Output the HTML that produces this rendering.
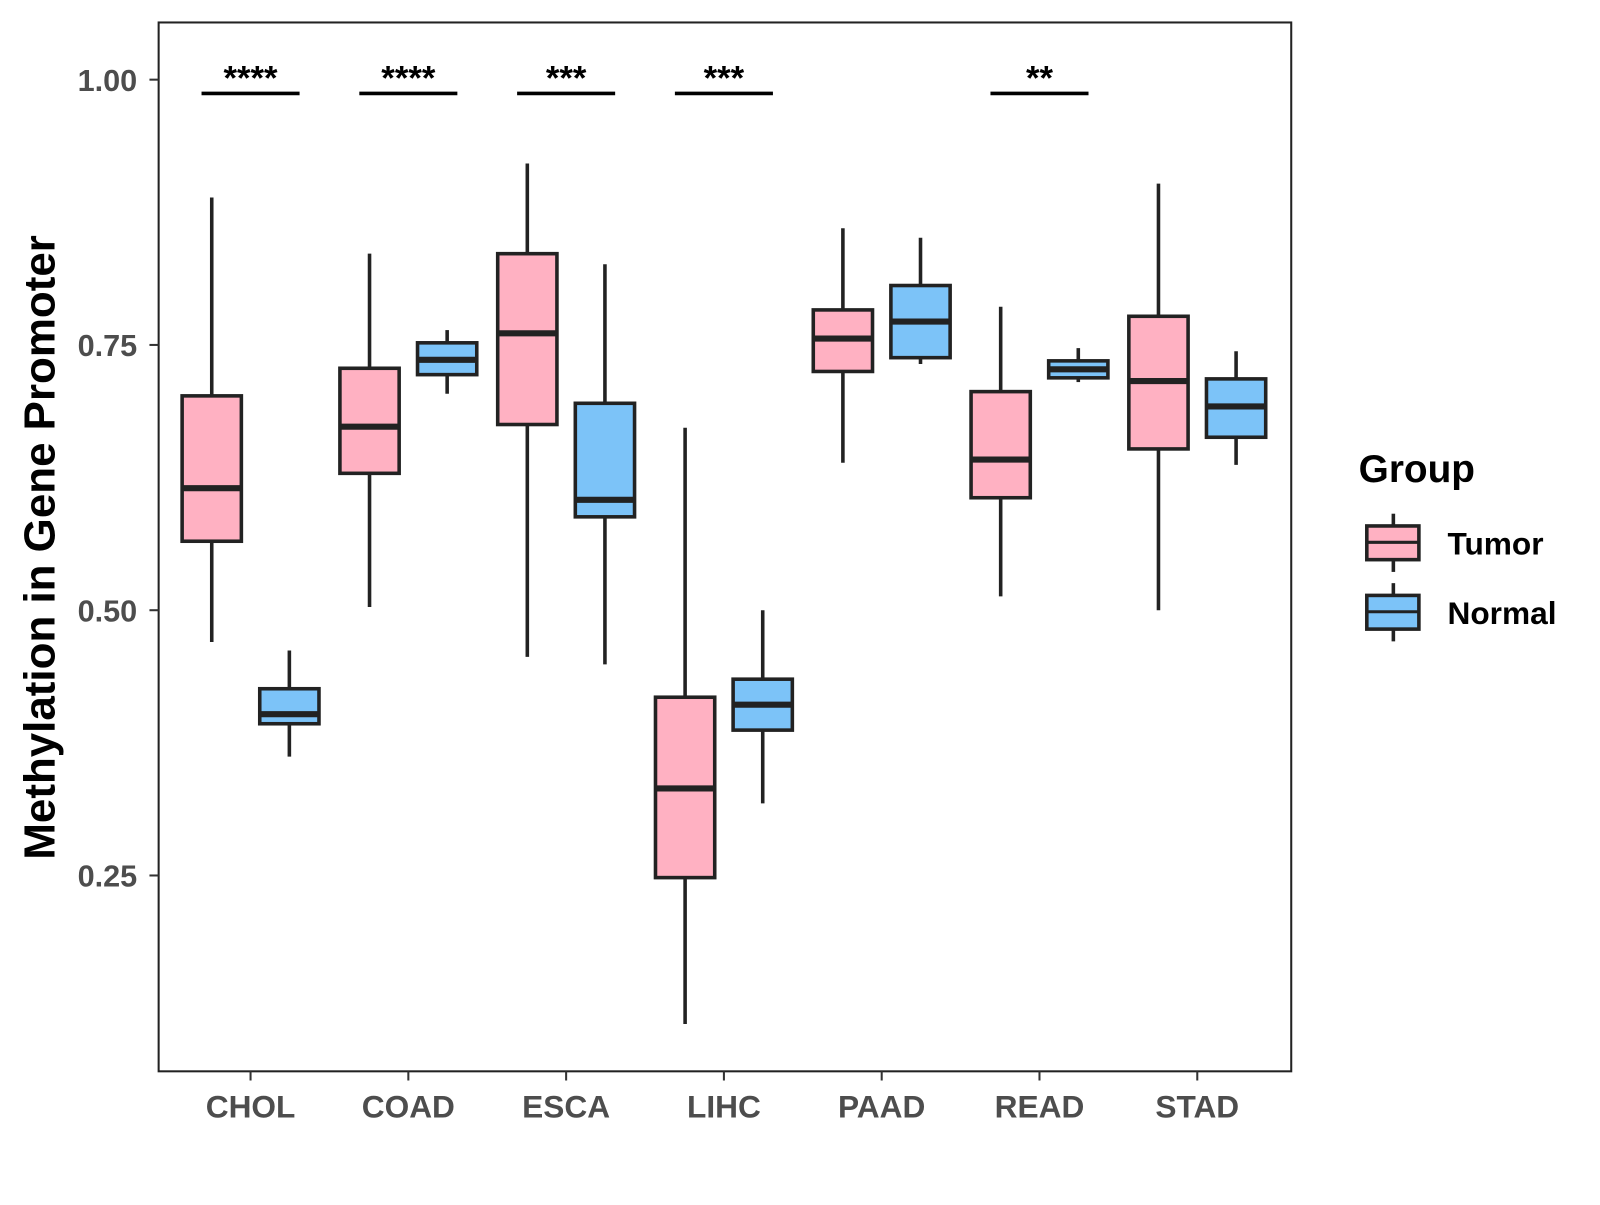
<!DOCTYPE html>
<html><head><meta charset="utf-8"><style>
body{margin:0;background:#fff}
svg text{font-family:"Liberation Sans",Arial,sans-serif;font-weight:bold}
</style></head><body>
<svg id="chart" width="1600" height="1200" viewBox="0 0 1566 1175" xmlns="http://www.w3.org/2000/svg">
<rect x="0" y="0" width="1566" height="1175" fill="#fff"/>
<g id="plot"></g>
<text transform="translate(53,536) rotate(-90)" text-anchor="middle" font-size="43" fill="#000">Methylation in Gene Promoter</text>
<g>
<text x="1330" y="472" font-size="38" fill="#000">Group</text>
<g>
<line x1="1364" y1="503" x2="1364" y2="560" stroke="#222" stroke-width="3.5"/>
<rect x="1338" y="515" width="51" height="33" fill="#FFB1C2" stroke="#222" stroke-width="3.5"/>
<line x1="1338" y1="531" x2="1389" y2="531" stroke="#222" stroke-width="3"/>
<text x="1417" y="543" font-size="31" fill="#000">Tumor</text></g>
<g>
<line x1="1364" y1="571" x2="1364" y2="628" stroke="#222" stroke-width="3.5"/>
<rect x="1338" y="583" width="51" height="33" fill="#7CC3F8" stroke="#222" stroke-width="3.5"/>
<line x1="1338" y1="599" x2="1389" y2="599" stroke="#222" stroke-width="3"/>
<text x="1417" y="611" font-size="31" fill="#000">Normal</text></g>
</g>
</svg>
<script>
const categories=["CHOL","COAD","ESCA","LIHC","PAAD","READ","STAD"];
// [low, q1, median, q3, high]
const tumorStats=[[0.47,0.565,0.615,0.702,0.889],[0.503,0.629,0.673,0.728,0.836],[0.456,0.675,0.761,0.836,0.921],[0.110,0.248,0.332,0.418,0.672],[0.639,0.725,0.756,0.783,0.860],[0.513,0.606,0.642,0.706,0.786],[0.50,0.652,0.716,0.777,0.902]];
const normalStats=[[0.362,0.393,0.402,0.426,0.462],[0.704,0.722,0.736,0.752,0.764],[0.449,0.588,0.604,0.695,0.826],[0.318,0.387,0.411,0.435,0.50],[0.732,0.738,0.772,0.806,0.851],[0.715,0.719,0.727,0.735,0.747],[0.637,0.663,0.692,0.718,0.744]];
const sigLabels=["****","****","***","***","","**",""];
const yTicks=[0.25,0.5,0.75,1.0];
const yTickLabels=["0.25","0.50","0.75","1.00"];
const sigLevel=0.987;

const L=155,R=1264,T=22,B=1049;
const y=v=>78+(1-v)*1039;
const x=i=>245+i*154.5;
const NS="http://www.w3.org/2000/svg";
const g=document.getElementById('plot');
function mk(t,a,p){const e=document.createElementNS(NS,t);for(const k in a)e.setAttribute(k,a[k]);(p||g).appendChild(e);return e;}

const frame=mk('rect',{x:L,y:T,width:R-L,height:B-T,fill:'none',stroke:'#222','stroke-width':2});



yTicks.forEach((v,i)=>{
  mk('line',{x1:L-9,x2:L,y1:y(v),y2:y(v),stroke:'#333','stroke-width':2});
  const t=mk('text',{x:L-21,y:y(v)+11,'text-anchor':'end','font-size':30,fill:'#4d4d4d'});
  t.textContent=yTickLabels[i];
  
  
});
categories.forEach((c,i)=>{
  mk('line',{x1:x(i),x2:x(i),y1:B,y2:B+9,stroke:'#333','stroke-width':2});
  const t=mk('text',{x:x(i),y:B+45,'text-anchor':'middle','font-size':31,fill:'#4d4d4d'});
  t.textContent=c;
  
  
});
function box(cx,s,fill,name){
  const grp=mk('g',{});
  
  
  mk('line',{x1:cx,x2:cx,y1:y(s[4]),y2:y(s[0]),stroke:'#222','stroke-width':3.5},grp);
  mk('rect',{x:cx-29,y:y(s[3]),width:58,height:y(s[1])-y(s[3]),fill:fill,stroke:'#222','stroke-width':3.5},grp);
  mk('line',{x1:cx-29,x2:cx+29,y1:y(s[2]),y2:y(s[2]),stroke:'#222','stroke-width':6},grp);
}
categories.forEach((c,i)=>{
  box(x(i)-38,tumorStats[i],'#FFB1C2','box-tumor-'+c.toLowerCase());
  box(x(i)+38,normalStats[i],'#7CC3F8','box-normal-'+c.toLowerCase());
  if(sigLabels[i]){
    const sg=mk('g',{});
    
    
    mk('line',{x1:x(i)-48,x2:x(i)+48,y1:y(sigLevel),y2:y(sigLevel),stroke:'#000','stroke-width':3.5},sg);
    const t=mk('text',{x:x(i),y:y(sigLevel)-4,'text-anchor':'middle','font-size':34,fill:'#000'},sg);
    t.textContent=sigLabels[i];
  }
});
</script>
</body></html>
